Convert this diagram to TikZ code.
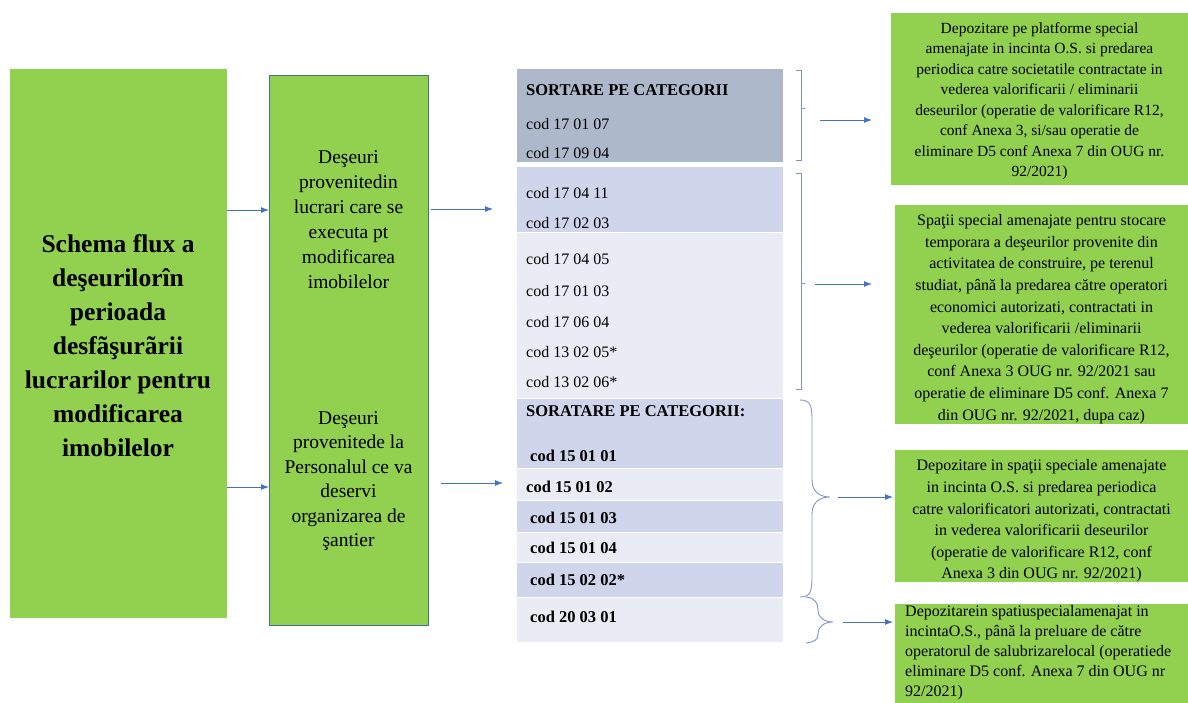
\documentclass[tikz,border=0pt]{standalone}
\usepackage{fontspec}
\setmainfont{Liberation Serif}
\usetikzlibrary{arrows.meta,calc}
\definecolor{grn}{HTML}{92D050}
\definecolor{bordb}{HTML}{41719C}
\definecolor{arrb}{HTML}{4472C4}
\definecolor{tdark}{HTML}{ADB9CA}
\definecolor{tmid}{HTML}{CFD5EA}
\definecolor{tlight}{HTML}{E9EBF5}
\definecolor{brk}{HTML}{7F96C4}
\begin{document}
\begin{tikzpicture}[x=1pt,y=-1pt,
  gbox/.style={fill=grn, draw=none, anchor=north west, inner sep=0pt},
  row/.style={draw=white, line width=1.2pt, anchor=north west, inner sep=0pt, minimum width=267pt},
  code/.style={anchor=west, inner sep=0pt, font=\fontsize{16}{18}\selectfont},
  bcode/.style={anchor=west, inner sep=0pt, font=\fontsize{16.5}{18}\selectfont\bfseries},
  arr/.style={draw=arrb, line width=0.9pt, -{Latex[length=8pt,width=6pt]}},
  brk/.style={draw=brk, line width=0.9pt},
  rtext/.style={align=center, inner sep=0pt},
]
\useasboundingbox (0,0) rectangle (1188,702);

% left box
\node[gbox, minimum width=217pt, minimum height=549pt] (L) at (10,69) {};
\node[rtext, font=\fontsize{25.5}{34}\selectfont\bfseries] (Lt) at (118,346)
  {Schema flux a\\deşeurilorîn\\perioada\\desfãşurãrii\\lucrarilor pentru\\modificarea\\imobilelor};

% middle box
\node[gbox, draw=bordb, line width=1.2pt, minimum width=159pt, minimum height=550pt] (M) at (269,75) {};
\node[rtext, font=\fontsize{19.5}{25}\selectfont] (Mt1) at (348.5,220)
  {Deşeuri\\provenitedin\\lucrari care se\\executa pt\\modificarea\\imobilelor};
\node[rtext, font=\fontsize{19.5}{24.5}\selectfont] (Mt2) at (348.5,481)
  {Deşeuri\\provenitede la\\Personalul ce va\\deservi\\organizarea de\\şantier};

\coordinate (ya) at (0,210);
\coordinate (yb) at (0,487);
\draw[arr] (L.east |- ya) -- (M.west |- ya);
\draw[arr] (L.east |- yb) -- (M.west |- yb);

% table
\node[row, fill=tdark, minimum height=94pt] (T1) at (516,68) {};
\node[row, fill=tmid, minimum height=66pt] (T2) at (516,166) {};
\node[row, fill=tlight, minimum height=166pt] (T3) at (516,232) {};
\node[row, fill=tmid, minimum height=70pt] (T4) at (516,398) {};
\node[row, fill=tlight, minimum height=32pt] (T5) at (516,468) {};
\node[row, fill=tmid, minimum height=32pt] (T6) at (516,500) {};
\node[row, fill=tlight, minimum height=30pt] (T7) at (516,532) {};
\node[row, fill=tmid, minimum height=35pt] (T8) at (516,562) {};
\node[row, fill=tlight, minimum height=45pt] (T9) at (516,597) {};

\coordinate (ma) at (493,209);
\coordinate (mb) at (503,483);
\draw[arr] ($(M.east |- ma)+(2,0)$) -- (ma);
\draw[arr] ($(M.east |- mb)+(12,0)$) -- (mb);

\node[bcode] (c0) at (526,90) {SORTARE PE CATEGORII};
\node[code] (c1) at (526,124) {cod 17 01 07};
\node[code] (c2) at (526,153) {cod 17 09 04};
\node[code] (c3) at (526,193) {cod 17 04 11};
\node[code] (c4) at (526,223) {cod 17 02 03};
\node[code] (c5) at (526,259) {cod 17 04 05};
\node[code] (c6) at (526,291) {cod 17 01 03};
\node[code] (c7) at (526,322) {cod 17 06 04};
\node[code] (c8) at (526,352) {cod 13 02 05*};
\node[code] (c9) at (526,382) {cod 13 02 06*};
\node[bcode] (c10) at (526,411) {SORATARE PE CATEGORII:};
\node[bcode] (c11) at (530,456) {cod 15 01 01};
\node[bcode] (c12) at (526,487) {cod 15 01 02};
\node[bcode] (c13) at (530,518) {cod 15 01 03};
\node[bcode] (c14) at (530,548) {cod 15 01 04};
\node[bcode] (c15) at (530,580) {cod 15 02 02*};
\node[bcode] (c16) at (530,617) {cod 20 03 01};

% brackets
\draw[brk] (796,70) -- (801,70) -- (801,160) -- (796,160);
\draw[brk] (801,108) -- (805,108);
\draw[brk] (796,173) -- (801,173) -- (801,389) -- (796,389);
\draw[brk] (801,283) -- (805,283);
\draw[brk] (800,400) .. controls (810,400) and (812,405) .. (812,420) -- (812,480)
  .. controls (812,492) and (820,497) .. (830,497)
  .. controls (820,497) and (812,502) .. (812,514) -- (812,577)
  .. controls (812,592) and (810,597) .. (800,597);
\draw[brk] (806,597) .. controls (815,598) and (818,603) .. (818,610)
  .. controls (818,618) and (825,622) .. (833,622)
  .. controls (825,622) and (818,626) .. (818,634)
  .. controls (818,640) and (814,642) .. (806,643);

% right boxes
\node[gbox, minimum width=297pt, minimum height=172pt] (R1) at (891,13) {};
\node[rtext, font=\fontsize{15.5}{20.5}\selectfont] (R1t) at (1039.5,101)
  {Depozitare pe platforme special\\amenajate in incinta O.S. si predarea\\periodica catre  societatile contractate in\\vederea valorificarii / eliminarii\\deseurilor (operatie de valorificare R12,\\conf Anexa 3, si/sau operatie de\\eliminare D5 conf Anexa 7 din OUG nr.\\92/2021)};

\node[gbox, minimum width=293pt, minimum height=219pt] (R2) at (895,205) {};
\node[rtext, font=\fontsize{16}{21.6}\selectfont] (R2t) at (1041.5,319)
  {Spaţii special amenajate pentru stocare\\temporara a deşeurilor provenite din\\activitatea de construire, pe terenul\\studiat, până la predarea către operatori\\economici autorizati, contractati in\\vederea valorificarii /eliminarii\\deşeurilor (operatie de valorificare R12,\\conf Anexa 3 OUG nr. 92/2021 sau\\operatie de eliminare D5 conf. Anexa 7\\din OUG nr. 92/2021, dupa caz)};

\node[gbox, minimum width=293pt, minimum height=132pt] (R3) at (895,450) {};
\node[rtext, font=\fontsize{16}{21.6}\selectfont] (R3t) at (1041.5,521)
  {Depozitare in spaţii speciale amenajate\\in incinta O.S. si predarea periodica\\catre valorificatori autorizati, contractati\\in vederea valorificarii deseurilor\\(operatie de valorificare R12, conf\\Anexa 3 din OUG nr. 92/2021)};

\node[gbox, minimum width=293pt, minimum height=100pt] (R4) at (895,604) {};
\node[align=left, inner sep=0pt, anchor=north west, font=\fontsize{16}{20}\selectfont] (R4t) at (905,605)
  {Depozitarein spatiuspecialamenajat in\\incintaO.S., până la preluare de către\\operatorul de salubrizarelocal (operatiede\\eliminare D5 conf. Anexa 7 din OUG nr\\92/2021)};

% arrows to right boxes
\coordinate (s1) at (820,120);
\coordinate (s2) at (815,284);
\coordinate (s3) at (838,497);
\coordinate (s4) at (843,622);
\draw[arr, shorten >=19pt] (s1) -- (R1.west |- s1);
\draw[arr, shorten >=23pt] (s2) -- (R2.west |- s2);
\draw[arr, shorten >=2pt] (s3) -- (R3.west |- s3);
\draw[arr, shorten >=2pt] (s4) -- (R4.west |- s4);
\end{tikzpicture}
\end{document}
